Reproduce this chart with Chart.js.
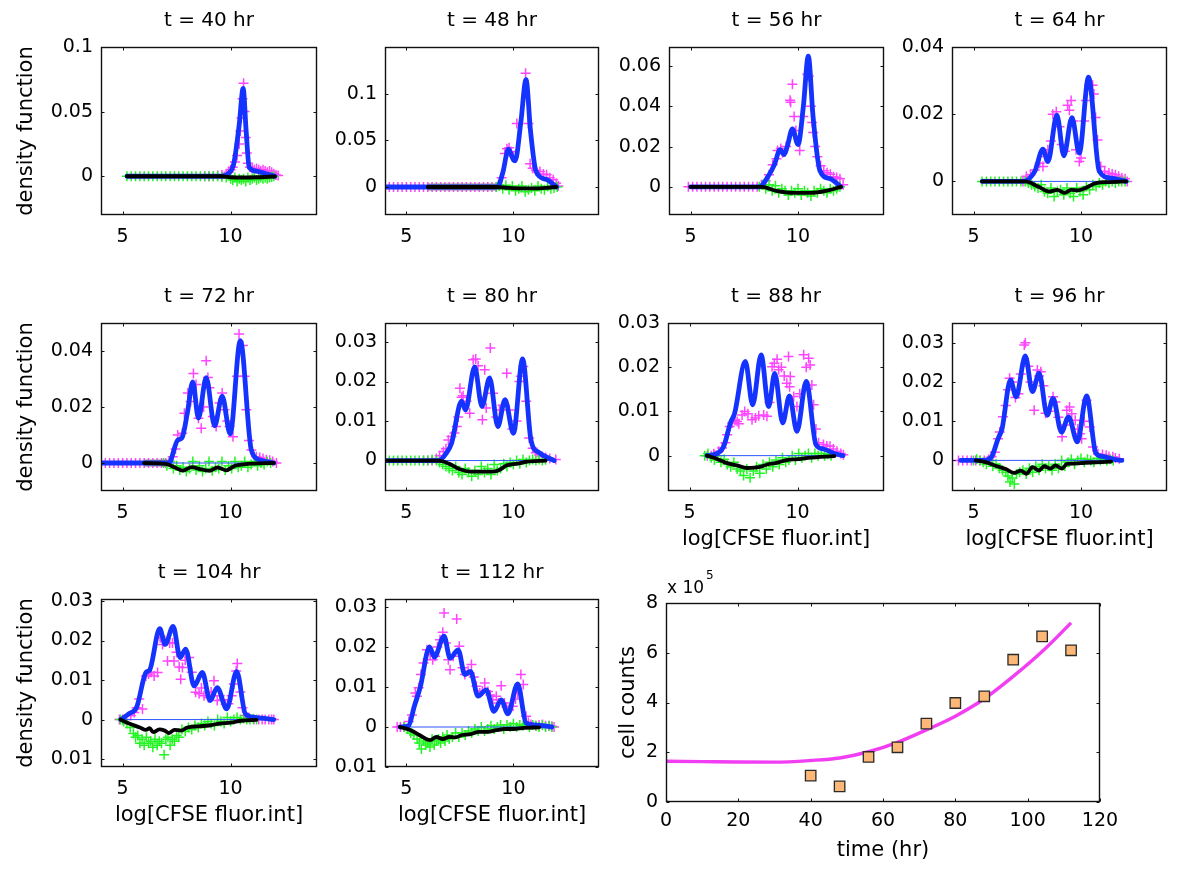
<!DOCTYPE html>
<html><head><meta charset="utf-8">
<script src="https://cdn.jsdelivr.net/npm/chart.js@4.4.0/dist/chart.umd.min.js"></script>
<style>
html,body{margin:0;padding:0;background:#fff}
body{width:1200px;height:884px;position:relative;overflow:hidden}
canvas{position:absolute}
</style></head><body>
<script>
// ---------------- DATA ----------------
const xTicks = [5, 10];
const xTickLabels = ['5', '10'];

// t = 40 hr
const mag40x = [8.8,9.0,9.2,9.4,9.6,9.8,9.9,10.0,10.1,10.2,10.3,10.4,10.45,10.5,10.55,10.6,10.65,10.7,10.75,10.8,10.9,11.0,11.1,11.2,11.3,11.4,11.5,11.6,11.7,11.8,11.9,12.0,12.1,12.2];
const mag40y = [0,0,0,0.0005,0.001,0.002,0.003,0.005,0.007,0.011,0.016,0.025,0.035,0.045,0.06,0.072,0.05,0.03,0.018,0.01,0.007,0.006,0.005,0.006,0.005,0.004,0.005,0.004,0.003,0.004,0.003,0.002,0.001,0.0005];
const grn40x = [5.2,5.4,5.6,5.8,6.0,6.2,6.4,6.6,6.8,7.0,7.2,7.4,7.6,7.8,8.0,8.2,8.4,8.6,8.8,9.0,9.2,9.4,9.6,9.8,10.0,10.1,10.2,10.3,10.4,10.5,10.6,10.7,10.8,10.9,11.0,11.1,11.2,11.3,11.4,11.5,11.6,11.7,11.8,11.9,12.0];
const grn40y = [0,0,0,0,0,0,0,0,0,0,0,0,0,0,0,0,0,0,0,0,0,0,-0.0005,-0.001,-0.002,-0.003,-0.001,-0.004,-0.002,-0.003,-0.002,-0.004,-0.001,-0.003,-0.002,-0.001,-0.003,-0.002,-0.001,-0.002,-0.001,-0.002,-0.001,-0.0005,0];
const fit40x = [5.2,9.6,9.9,10.15,10.4,10.58,10.72,10.86,11.2,11.6,12.05];
const fit40y = [0,0,0.002,0.01,0.04,0.068,0.035,0.007,0.004,0.002,0];
const neg40x = [5.2,9.6,10.0,10.6,11.2,12.05];
const neg40y = [0,0,-0.0008,-0.001,-0.0008,-0.0002];
const yTicks40 = [0,0.05,0.1], yLab40 = ['0','0.05','0.1'];

// t = 48 hr
const mag48x = [4.0,4.2,4.4,4.6,4.8,5.0,5.2,5.4,5.6,5.8,6.0,6.2,6.4,6.6,6.8,7.0,7.2,7.4,7.6,7.8,8.0,8.2,8.4,8.6,8.8,9.0,9.2,9.3,9.45,9.6,9.7,9.8,9.9,10.0,10.16,10.57,10.7,10.78,10.9,11.05,11.24,11.4,11.55,11.7,11.86,12.0,12.1];
const mag48y = [0,0,0,0,0,0,0,0,0,0,0,0,0,0,0,0,0,0,0,0,0,0,0,0,0,0,0,0.002,0.01,0.036,0.041,0.042,0.038,0.033,0.068,0.122,0.068,0.025,0.02,0.018,0.0165,0.014,0.013,0.01,0.0077,0.004,0.001];
const grn48x = [9.2,9.35,9.5,9.65,9.8,9.95,10.1,10.25,10.4,10.55,10.7,10.85,11.0,11.15,11.3,11.45,11.6,11.75,11.9,12.05];
const grn48y = [0,0.001,-0.002,0.002,-0.003,0.001,-0.004,-0.002,0.001,-0.005,-0.003,-0.001,-0.004,0.001,-0.002,-0.003,0.0005,-0.002,-0.001,0];
const fit48x = [4.0,9.25,9.5,9.77,10.0,10.08,10.35,10.59,10.8,11.06,11.55,12.02];
const fit48y = [0,0,0.015,0.0405,0.029,0.028,0.07,0.115,0.06,0.0165,0.008,0];
const neg48x = [6.0,9.2,9.8,10.4,11.0,11.6,12.0];
const neg48y = [0,0,-0.001,-0.0015,-0.0015,-0.0008,0];
const grey48 = [6.0,9.2];
const yTicks48 = [0,0.05,0.1], yLab48 = ['0','0.05','0.1'];

// t = 56 hr
const mag56x = [4.9,5.1,5.3,5.5,5.7,5.9,6.1,6.3,6.5,6.7,6.9,7.1,7.3,7.5,7.7,7.9,8.1,8.3,8.5,8.65,8.82,9.0,9.05,9.2,9.28,9.45,9.63,9.66,9.74,9.82,9.9,10.08,10.25,10.43,10.5,10.6,10.66,10.71,10.8,10.9,11.05,11.2,11.35,11.5,11.65,11.8,11.95,12.1];
const mag56y = [0,0,0,0,0,0,0,0,0,0,0,0,0,0,0,0,0,0.001,0.003,0.006,0.011,0.014,0.018,0.019,0.017,0.02,0.043,0.042,0.051,0.035,0.028,0.018,0.035,0.056,0.055,0.04,0.032,0.027,0.02,0.015,0.0105,0.008,0.007,0.0063,0.005,0.0047,0.004,0.001];
const grn56x = [8.2,8.35,8.5,8.65,8.8,8.95,9.1,9.25,9.4,9.55,9.7,9.85,10.0,10.15,10.3,10.45,10.6,10.75,10.9,11.05,11.2,11.35,11.5,11.65,11.8,11.95];
const grn56y = [0,0.001,-0.001,0.001,-0.002,0.0005,-0.003,-0.001,-0.002,-0.004,-0.002,-0.003,-0.001,-0.004,-0.002,-0.003,-0.0045,-0.002,-0.003,-0.001,-0.002,-0.003,-0.001,-0.002,-0.001,0];
const fit56x = [5.0,8.2,8.6,8.9,9.17,9.35,9.5,9.74,10.0,10.25,10.48,10.7,11.02,11.5,12.0];
const fit56y = [0,0,0.005,0.011,0.0185,0.016,0.02,0.0288,0.021,0.04,0.065,0.035,0.008,0.004,0];
const neg56x = [5.0,8.3,9.0,9.8,10.6,11.3,12.0];
const neg56y = [0,0,-0.002,-0.003,-0.003,-0.002,0];
const yTicks56 = [0,0.02,0.04,0.06], yLab56 = ['0','0.02','0.04','0.06'];

// t = 64 hr
const mag64x = [7.3,7.46,7.65,7.85,8.08,8.23,8.34,8.46,8.6,8.69,8.85,9.0,9.1,9.25,9.38,9.46,9.54,9.65,9.77,9.92,10.0,10.15,10.23,10.38,10.54,10.6,10.68,10.77,10.92,11.1,11.3,11.45,11.6,11.75,11.9,12.05,12.15];
const mag64y = [0,0.0015,0.002,0.0034,0.0054,0.0044,0.0074,0.0094,0.012,0.02,0.0207,0.0163,0.011,0.009,0.0227,0.0212,0.0241,0.018,0.0094,0.0059,0.007,0.018,0.0241,0.0286,0.0286,0.026,0.019,0.0123,0.0044,0.003,0.0025,0.0022,0.002,0.0015,0.001,0.0008,0];
const grn64x = [5.4,5.6,5.8,6.0,6.2,6.4,6.6,6.8,7.0,7.2,7.4,7.55,7.7,7.85,8.0,8.15,8.3,8.45,8.6,8.75,8.9,9.05,9.2,9.35,9.5,9.65,9.8,9.95,10.1,10.25,10.4,10.55,10.7,10.85,11.0,11.15,11.3,11.45,11.6,11.75,11.9,12.05];
const grn64y = [0,0,0,0,0,0,0,0,0,0,0,-0.0005,-0.001,-0.0015,-0.002,-0.001,-0.003,-0.0035,-0.002,-0.0045,-0.003,-0.0025,-0.004,-0.002,-0.0035,-0.0045,-0.002,-0.003,-0.004,-0.0015,-0.0025,-0.001,-0.0015,-0.0005,-0.001,0,-0.0005,0,-0.0005,0,0,0];
const fit64x = [5.4,7.3,7.85,8.23,8.46,8.88,9.2,9.58,9.92,10.35,10.85,11.4,12.1];
const fit64y = [0,0,0.003,0.0096,0.0059,0.0197,0.0076,0.019,0.0084,0.031,0.003,0.001,0];
const neg64x = [5.4,7.4,8.0,8.54,8.9,9.23,9.55,9.85,10.2,10.7,11.3,12.1];
const neg64y = [0,0,-0.0015,-0.003,-0.0025,-0.0034,-0.0025,-0.0027,-0.002,-0.0005,-0.0002,0];
const base64 = [7.3,12.1];
const yTicks64 = [0,0.02,0.04], yLab64 = ['0','0.02','0.04'];

// t = 72 hr
const mag72x = [4.0,4.2,4.4,4.6,4.8,5.0,5.2,5.4,5.6,5.8,6.0,6.2,6.4,6.6,6.8,7.0,7.15,7.32,7.45,7.55,7.76,7.86,8.02,8.15,8.28,8.4,8.51,8.64,8.75,8.87,8.95,9.02,9.18,9.33,9.49,9.61,9.72,9.85,9.95,10.11,10.3,10.39,10.57,10.65,10.73,10.85,10.96,11.19,11.35,11.5,11.65,11.81,11.95,12.12];
const mag72y = [0,0,0,0,0,0,0,0,0,0,0,0,0,0,0,0,0.0005,0.0022,0.005,0.01,0.0106,0.0178,0.025,0.022,0.032,0.028,0.016,0.0124,0.02,0.0365,0.0305,0.0269,0.0166,0.013,0.0214,0.025,0.019,0.015,0.013,0.0094,0.031,0.0461,0.042,0.031,0.019,0.008,0.0046,0.0022,0.002,0.0016,0.0012,0.001,0.0005,0];
const grn72x = [6.9,7.05,7.2,7.35,7.5,7.65,7.8,7.95,8.1,8.25,8.4,8.55,8.7,8.85,9.0,9.15,9.3,9.45,9.6,9.75,9.9,10.05,10.2,10.35,10.5,10.65,10.8,10.95,11.1,11.25,11.4,11.55,11.7,11.85];
const grn72y = [0,-0.001,0.0005,-0.002,-0.001,-0.0025,-0.0015,-0.003,-0.002,0.0005,-0.0025,-0.001,-0.003,-0.002,0.0005,-0.0028,-0.0015,-0.002,0.0005,-0.0025,-0.001,-0.002,0.0005,-0.0015,-0.001,0.0005,-0.0015,-0.0005,0.0005,-0.001,0,-0.0005,0.0005,0];
const fit72x = [4.0,7.14,7.55,7.75,8.0,8.25,8.51,8.87,9.26,9.61,9.98,10.45,10.96,11.4,12.0];
const fit72y = [0,0,0.0082,0.009,0.018,0.029,0.016,0.0305,0.0133,0.0239,0.0104,0.0437,0.0046,0.001,0];
const neg72x = [6.0,7.0,7.4,7.79,8.2,8.6,9.02,9.4,9.8,10.2,10.6,11.0,12.0];
const neg72y = [0,-0.0003,-0.0015,-0.0027,-0.0015,-0.0022,-0.0028,-0.0016,-0.0026,-0.001,-0.0005,-0.0002,0];
const grey72 = [6.0,7.1], base72 = [7.1,12.0];
const yTicks72 = [0,0.02,0.04], yLab72 = ['0','0.02','0.04'];

// t = 80 hr
const mag80x = [5.8,6.0,6.2,6.4,6.55,6.73,6.85,6.96,7.11,7.25,7.35,7.42,7.5,7.58,7.65,7.81,7.96,8.12,8.24,8.35,8.55,8.66,8.73,8.92,9.05,9.2,9.35,9.5,9.69,9.81,9.95,10.15,10.28,10.35,10.46,10.6,10.74,10.9,11.05,11.2,11.35,11.51,11.7,11.98];
const mag80y = [0,0,0,0.0005,0.0012,0.0023,0.003,0.0052,0.0061,0.007,0.0086,0.011,0.0183,0.016,0.0164,0.015,0.012,0.0255,0.0257,0.024,0.0103,0.023,0.0133,0.0285,0.017,0.011,0.0128,0.014,0.0221,0.0128,0.008,0.01,0.02,0.0213,0.0238,0.015,0.0057,0.0031,0.002,0.0014,0.001,0.0008,0.0005,0.0003];
const grn80x = [4.0,4.2,4.4,4.6,4.8,5.0,5.2,5.4,5.6,5.8,6.0,6.2,6.4,6.55,6.7,6.85,7.0,7.15,7.3,7.45,7.6,7.75,7.9,8.05,8.2,8.35,8.5,8.65,8.8,8.95,9.1,9.25,9.4,9.55,9.7,9.85,10.0,10.15,10.3,10.45,10.6,10.75,10.9,11.05,11.2,11.35,11.5];
const grn80y = [0,0,0,0,0,0,0,0,0,0,0,0.0003,0,-0.0005,-0.001,-0.0015,-0.002,-0.0025,-0.0015,-0.003,-0.0035,-0.002,-0.003,-0.004,-0.0025,-0.0035,-0.0015,-0.003,-0.002,-0.0035,-0.001,-0.0025,-0.002,-0.0008,-0.0015,-0.0005,-0.001,0,-0.0008,0.0003,-0.0005,0,0.0003,0,0.0003,0,0.0002];
const fit80x = [4.0,6.5,6.88,7.11,7.58,7.76,8.19,8.53,8.89,9.27,9.61,10.0,10.43,10.82,11.2,11.9];
const fit80y = [0,0,0.002,0.0044,0.015,0.0128,0.0237,0.0137,0.0209,0.0086,0.0154,0.0069,0.0257,0.0052,0.002,0];
const neg80x = [4.0,6.5,7.0,7.5,8.0,8.5,9.0,9.3,9.7,10.2,10.6,11.5];
const neg80y = [0,0,-0.0008,-0.0022,-0.0028,-0.0028,-0.0028,-0.0025,-0.0012,-0.0008,-0.0003,0];
const base80 = [6.5,11.9];
const yTicks80 = [0,0.01,0.02,0.03], yLab80 = ['0','0.01','0.02','0.03'];

// t = 88 hr
const mag88x = [5.82,6.0,6.12,6.35,6.5,6.66,6.74,6.86,6.97,7.1,7.2,7.28,7.43,7.55,7.7,7.89,8.05,8.2,8.43,8.58,8.7,8.82,8.92,9.05,9.12,9.25,9.38,9.5,9.58,9.63,9.66,9.82,9.97,10.1,10.28,10.4,10.51,10.58,10.66,10.74,10.85,10.97,11.2,11.35,11.5,11.65,11.82,12.0,12.12];
const mag88y = [0,0,0.0004,0.001,0.0017,0.0029,0.0047,0.0066,0.0074,0.008,0.0077,0.0072,0.0092,0.01,0.0095,0.0081,0.0085,0.009,0.0092,0.0089,0.012,0.0201,0.0209,0.0218,0.0194,0.02,0.018,0.0164,0.0224,0.0156,0.0179,0.0134,0.0111,0.014,0.0228,0.02,0.022,0.0205,0.016,0.0115,0.006,0.0029,0.0025,0.0022,0.0021,0.0015,0.001,0.0005,0.0002];
const grn88x = [5.7,5.85,6.0,6.15,6.3,6.45,6.6,6.75,6.9,7.05,7.2,7.35,7.5,7.65,7.8,7.95,8.1,8.25,8.4,8.55,8.7,8.85,9.0,9.15,9.3,9.45,9.6,9.75,9.9,10.05,10.2,10.35,10.5,10.65,10.8,10.95,11.1,11.25,11.4,11.55];
const grn88y = [0,0.0005,-0.0005,-0.001,0,-0.0015,-0.0008,-0.002,-0.0025,-0.0015,-0.003,-0.0035,-0.0045,-0.003,-0.005,-0.0035,-0.0025,-0.004,-0.002,-0.003,-0.0015,-0.0025,-0.001,-0.002,-0.0005,-0.0015,-0.001,0,-0.001,0.0005,-0.0005,0,0.0005,-0.0005,0.0005,0,0.0005,0,0.0003,0];
const fit88x = [5.8,6.2,6.58,6.89,7.08,7.58,7.92,8.31,8.66,8.94,9.31,9.62,9.97,10.4,10.85,11.2,11.7,12.1];
const fit88y = [0,0.0003,0.0021,0.0074,0.0095,0.0213,0.0115,0.0228,0.0111,0.0186,0.0074,0.0135,0.0055,0.0168,0.0025,0.0015,0.0005,0];
const neg88x = [5.8,6.3,6.74,7.2,7.66,8.0,8.3,8.6,8.97,9.5,10.0,10.5,11.7];
const neg88y = [0,-0.0008,-0.0017,-0.0022,-0.0028,-0.0027,-0.0025,-0.002,-0.0017,-0.001,-0.0008,-0.0005,-0.0001];
const base88 = [5.8,12.1];
const yTicks88 = [0,0.01,0.02,0.03], yLab88 = ['0','0.01','0.02','0.03'];

// t = 96 hr
const mag96x = [4.3,4.5,4.7,4.9,5.1,5.3,5.5,5.7,5.84,5.99,6.14,6.22,6.37,6.5,6.6,6.68,6.8,6.95,7.09,7.2,7.36,7.41,7.55,7.65,7.82,7.97,8.05,8.13,8.25,8.35,8.5,8.7,8.81,8.95,9.12,9.25,9.34,9.47,9.57,9.73,9.85,9.95,10.03,10.15,10.26,10.41,10.56,10.79,11.0,11.17,11.3,11.48,11.6,11.78];
const mag96y = [0,0,0,0,0,0,0,0.0003,0.0009,0.0021,0.0055,0.0072,0.0111,0.014,0.018,0.0209,0.02,0.016,0.017,0.022,0.0294,0.03,0.024,0.02,0.0128,0.023,0.0215,0.0226,0.019,0.012,0.0125,0.0162,0.0149,0.011,0.006,0.009,0.0128,0.0136,0.0119,0.0102,0.008,0.0068,0.0055,0.01,0.0153,0.0085,0.0034,0.0017,0.0015,0.0013,0.001,0.0009,0.0006,0.0004];
const grn96x = [5.0,5.15,5.3,5.45,5.6,5.75,5.9,6.05,6.2,6.35,6.5,6.6,6.7,6.8,6.9,7.0,7.15,7.3,7.45,7.6,7.75,7.9,8.05,8.2,8.35,8.5,8.65,8.8,8.95,9.1,9.25,9.4,9.55,9.7,9.85,10.0,10.15,10.3,10.45,10.6,10.75,10.9,11.05,11.2,11.35,11.5];
const grn96y = [0,0.0003,0,-0.0005,-0.001,0,-0.0015,-0.001,-0.002,-0.0025,-0.003,-0.004,-0.0055,-0.0045,-0.006,-0.0035,-0.003,-0.0025,-0.0035,-0.002,-0.003,-0.0015,-0.0025,-0.001,-0.002,-0.0015,-0.0025,-0.001,-0.002,0,-0.0015,-0.0005,0.0003,-0.001,0,0.0005,-0.0005,0.0003,0,-0.0005,0.0005,0,0.0003,0,0.0003,0];
const fit96x = [4.4,5.5,5.84,6.14,6.33,6.72,6.98,7.41,7.74,8.05,8.43,8.7,9.09,9.42,9.83,10.26,10.69,11.0,11.5,11.9];
const fit96y = [0,0,0.0009,0.0055,0.0081,0.0205,0.0162,0.0266,0.0175,0.0222,0.0115,0.0158,0.0072,0.0111,0.0047,0.0164,0.0019,0.001,0.0003,0];
const neg96x = [5.1,5.6,6.1,6.5,6.9,7.2,7.47,7.74,8.05,8.28,8.58,8.81,9.12,9.34,9.7,10.2,10.7,11.4];
const neg96y = [0,-0.0005,-0.0015,-0.0022,-0.0032,-0.0026,-0.0034,-0.0017,-0.0026,-0.0015,-0.0021,-0.0013,-0.0021,-0.0009,-0.0008,-0.0006,-0.0005,-0.0003];
const base96 = [5.5,11.9];
const yTicks96 = [0,0.01,0.02,0.03], yLab96 = ['0','0.01','0.02','0.03'];

// t = 104 hr
const mag104x = [4.85,5.0,5.15,5.38,5.54,5.65,5.77,5.92,6.08,6.2,6.32,6.46,6.62,6.74,6.85,6.95,7.08,7.18,7.31,7.38,7.5,7.62,7.69,7.77,7.9,8.08,8.2,8.38,8.54,8.65,8.77,8.97,9.1,9.23,9.38,9.5,9.65,9.77,9.9,10.05,10.15,10.26,10.31,10.45,10.55,10.69,10.85,11.08,11.3,11.46,11.6,11.77,11.9,12.0];
const mag104y = [0,0,0,0.001,0.0018,0.003,0.0052,0.0027,0.011,0.0115,0.012,0.011,0.0119,0.0207,0.019,0.02,0.0148,0.0194,0.0194,0.0148,0.017,0.0133,0.0102,0.0132,0.015,0.0157,0.012,0.0069,0.0065,0.008,0.006,0.0056,0.007,0.0098,0.0048,0.006,0.005,0.0039,0.004,0.006,0.009,0.0123,0.0142,0.007,0.003,0.001,0.0005,0,0,0,0,0,0,0];
const grn104x = [4.9,5.05,5.2,5.35,5.5,5.6,5.7,5.8,5.9,6.0,6.1,6.2,6.3,6.4,6.5,6.6,6.7,6.8,6.92,7.0,7.1,7.2,7.3,7.4,7.5,7.6,7.75,7.9,8.05,8.2,8.35,8.5,8.65,8.8,8.95,9.1,9.25,9.4,9.55,9.7,9.85,10.0,10.15,10.3,10.45,10.6,10.75,10.9,11.05,11.2];
const grn104y = [0,-0.0005,-0.001,-0.002,-0.0035,-0.0045,-0.004,-0.006,-0.005,-0.0065,-0.0045,-0.006,-0.0055,-0.007,-0.005,-0.0065,-0.0055,-0.006,-0.0089,-0.005,-0.0045,-0.0065,-0.005,-0.0055,-0.004,-0.0045,-0.0025,-0.003,-0.002,-0.0025,-0.0015,-0.002,-0.001,-0.0015,-0.0005,-0.001,-0.0015,0,-0.0005,-0.001,0.0005,-0.0005,0,0.0005,0,0.0003,0,0,0.0002,0];
const fit104x = [4.92,5.3,5.65,6.08,6.25,6.72,6.97,7.34,7.66,7.92,8.31,8.69,9.05,9.38,9.82,10.28,10.69,11.2,12.0];
const fit104y = [0,0.0015,0.0031,0.0119,0.0125,0.023,0.019,0.0236,0.0157,0.0178,0.0085,0.0119,0.0048,0.0081,0.0027,0.0122,0.0014,0.0005,0];
const neg104x = [4.9,5.3,5.8,6.08,6.25,6.42,6.7,6.95,7.15,7.4,7.7,8.0,8.5,9.0,9.5,10.0,10.5,11.2];
const neg104y = [0,-0.001,-0.002,-0.0026,-0.0022,-0.0032,-0.0025,-0.0028,-0.0034,-0.0026,-0.0028,-0.002,-0.0017,-0.0015,-0.001,-0.0008,-0.0003,-0.0001];
const base104 = [4.9,11.2];
const yTicks104 = [-0.01,0,0.01,0.02,0.03], yLab104 = ['0.01','0','0.01','0.02','0.03'];

// t = 112 hr
const mag112x = [4.57,4.72,4.88,5.11,5.26,5.42,5.49,5.57,5.68,5.8,5.96,6.11,6.23,6.34,6.45,6.57,6.7,6.76,6.85,6.96,7.04,7.19,7.35,7.47,7.62,7.73,7.88,8.04,8.15,8.27,8.43,8.55,8.66,8.81,8.92,9.04,9.2,9.3,9.43,9.58,9.68,9.78,9.97,10.1,10.2,10.35,10.46,10.59,10.7,10.82,11.05,11.2,11.36,11.5,11.67,11.8,11.9];
const mag112y = [0,0,0,0.0014,0.003,0.0085,0.0077,0.0098,0.0131,0.016,0.0193,0.0181,0.0168,0.0177,0.02,0.0218,0.0237,0.0285,0.021,0.0168,0.0143,0.0177,0.027,0.0202,0.0148,0.0131,0.014,0.0156,0.0125,0.0102,0.0085,0.009,0.011,0.0089,0.008,0.0068,0.0077,0.006,0.0103,0.006,0.005,0.0043,0.0052,0.007,0.0085,0.0131,0.0106,0.0027,0.0012,0.0006,0.0003,0.0005,0.0006,0.0003,0.0003,0.0002,0];
const grn112x = [4.9,5.05,5.2,5.35,5.5,5.6,5.7,5.8,5.9,6.0,6.1,6.2,6.3,6.4,6.5,6.6,6.7,6.8,6.9,7.0,7.15,7.3,7.45,7.6,7.75,7.9,8.05,8.2,8.35,8.5,8.65,8.8,8.95,9.1,9.25,9.4,9.55,9.7,9.85,10.0,10.15,10.3,10.45,10.6,10.75,10.9,11.05,11.2,11.35,11.5,11.65,11.8];
const grn112y = [0,-0.0005,-0.0015,-0.002,-0.003,-0.004,-0.0055,-0.0035,-0.0045,-0.004,-0.005,-0.003,-0.0045,-0.0035,-0.003,-0.004,-0.0025,-0.0035,-0.002,-0.003,-0.0025,-0.0015,-0.0025,-0.0015,-0.002,-0.001,-0.0015,-0.0005,-0.001,0,-0.001,-0.0005,0.0003,-0.0005,0,0.0005,-0.0005,0.0005,0,0.0008,0,0.0005,0.0003,0.0008,0,0.0005,0.0003,0,0.0005,0,0.0003,0];
const fit112x = [4.7,5.1,5.37,5.65,6.08,6.31,6.76,7.04,7.42,7.73,7.99,8.35,8.73,9.09,9.43,9.74,10.2,10.59,11.0,11.8];
const fit112y = [0,0.0003,0.0052,0.01,0.02,0.0175,0.0227,0.0172,0.0193,0.0131,0.0139,0.0077,0.0093,0.0039,0.0068,0.0033,0.0108,0.001,0.0005,0];
const neg112x = [4.7,5.2,5.6,6.11,6.4,6.7,7.0,7.3,7.6,8.0,8.4,8.8,9.2,9.6,10.0,10.5,11.2];
const neg112y = [0,-0.0008,-0.002,-0.0033,-0.0025,-0.003,-0.0025,-0.0026,-0.002,-0.0018,-0.0012,-0.0012,-0.0008,-0.0005,-0.0005,-0.0002,-0.0001];
const base112 = [4.7,11.8];
const yTicks112 = [-0.01,0,0.01,0.02,0.03], yLab112 = ['0.01','0','0.01','0.02','0.03'];

// cell counts
const countT = [40,48,56,64,72,80,88,96,104,112];
const countY = [106000,63000,181000,220000,315000,398000,425000,572000,666000,610000];
const modelT = [0,10,20,30,40,48,56,64,72,80,88,96,104,112];
const modelY = [164000,162500,161000,160500,167000,177000,202000,240000,290000,345000,415000,505000,605000,720000];
const timeTicks = [0,20,40,60,80,100,120];
const countTicks = [0,200000,400000,600000,800000];
const countTickLabels = ['0','2','4','6','8'];

// ---------------- RENDERING ----------------
const FONT = "'DejaVu Sans', sans-serif";
const pts = (xs, ys) => xs.map((x, i) => ({x: x, y: ys[i]}));
const seg = r => r ? [{x: r[0], y: 0}, {x: r[1], y: 0}] : [];

const boxPlugin = {
  id: 'matBox',
  afterDraw(chart) {
    const {ctx, chartArea: a, scales} = chart;
    const L = Math.round(a.left) + 0.5, R = Math.round(a.right) - 0.5;
    const T = Math.round(a.top) + 0.5, B = Math.round(a.bottom) - 0.5;
    ctx.save();
    ctx.strokeStyle = '#111'; ctx.lineWidth = 1.4;
    ctx.strokeRect(L, T, R - L, B - T);
    ctx.lineWidth = 1;
    ctx.beginPath();
    scales.x.ticks.forEach(t => {
      const p = Math.round(scales.x.getPixelForValue(t.value)) + 0.5;
      ctx.moveTo(p, B); ctx.lineTo(p, B - 3);
      ctx.moveTo(p, T); ctx.lineTo(p, T + 3);
    });
    scales.y.ticks.forEach(t => {
      const p = Math.round(scales.y.getPixelForValue(t.value)) + 0.5;
      ctx.moveTo(L, p); ctx.lineTo(L + 3, p);
      ctx.moveTo(R, p); ctx.lineTo(R - 3, p);
    });
    ctx.stroke();
    ctx.restore();
  }
};
const expPlugin = {
  id: 'expLabel',
  afterDraw(chart, args, opts) {
    if (!opts || !opts.text) return;
    const {ctx, chartArea: a} = chart;
    ctx.save();
    ctx.fillStyle = '#000';
    ctx.font = '17px ' + FONT;
    ctx.fillText(opts.text, a.left + 1, a.top - 10);
    ctx.font = '12px ' + FONT;
    ctx.fillText(opts.sup, a.left + 40, a.top - 24);
    ctx.restore();
  }
};

function makeCanvas(box, PL, PT, PR, PB) {
  const [L, T, R, B] = box;
  const c = document.createElement('canvas');
  c.width = R - L + PL + PR; c.height = B - T + PT + PB;
  c.style.left = (L - PL) + 'px'; c.style.top = (T - PT) + 'px';
  document.body.appendChild(c);
  return c;
}

function panel(p) {
  const PL = 100, PT = 48, PR = 14, PB = 70;
  const c = makeCanvas(p.box, PL, PT, PR, PB);
  const yTitleCenter = 27 - (p.box[0] - PL);
  const curve = (xs, ys, col, w, ord) => ({data: pts(xs, ys), borderColor: col, borderWidth: w, pointRadius: 0,
    cubicInterpolationMode: 'monotone', borderJoinStyle: 'round', borderCapStyle: 'round', order: ord});
  const marks = (xs, ys, col, ord) => ({data: pts(xs, ys), showLine: false, pointStyle: 'cross', pointRadius: 5,
    pointBorderColor: col, borderColor: col, pointBorderWidth: 1.5, order: ord});
  const datasets = [
    curve(p.negX, p.negY, '#000000', 3.8, 0),
    curve(p.fitX, p.fitY, '#1533ff', 4.8, 1),
    {data: seg(p.base), borderColor: '#2d55ff', borderWidth: 1, pointRadius: 0, order: 2},
    {data: seg(p.grey), borderColor: '#8a8a8a', borderWidth: 7, pointRadius: 0, order: 3},
    marks(p.grnX, p.grnY, '#22f522', 4),
    marks(p.magX, p.magY, '#ff44ff', 5)
  ];
  new Chart(c, {
    type: 'line',
    data: {datasets},
    plugins: [boxPlugin],
    options: {
      responsive: false, animation: false, events: [],
      layout: {padding: {left: 0, top: 0, right: PR, bottom: 0}},
      plugins: {
        legend: {display: false}, tooltip: {enabled: false},
        title: {display: true, text: p.title, fullSize: false, color: '#000',
          font: {family: FONT, size: 20, weight: 'normal'}, padding: {top: 10, bottom: 14}}
      },
      scales: {
        x: {type: 'linear', min: 4, max: 14,
          afterBuildTicks: s => { s.ticks = xTicks.map(v => ({value: v})); },
          afterFit: s => { s.height = PB; s.paddingLeft = 0; s.paddingRight = 0; },
          grid: {display: false, drawTicks: false}, border: {display: false},
          ticks: {color: '#000', font: {family: FONT, size: 19}, padding: 11, maxRotation: 0, autoSkip: false,
            callback: (v, i) => xTickLabels[i]},
          title: {display: !!p.xTitle, text: 'log[CFSE fluor.int]', color: '#000',
            font: {family: FONT, size: 21}, padding: {top: 0, bottom: PB - 49 - 12.6}}},
        y: {type: 'linear', min: p.ymin, max: p.ymax,
          afterBuildTicks: s => { s.ticks = p.yTicks.map(v => ({value: v})); },
          afterFit: s => { s.width = PL; },
          grid: {display: false, drawTicks: false}, border: {display: false},
          ticks: {color: '#000', font: {family: FONT, size: 19}, padding: 8, autoSkip: false,
            callback: (v, i) => p.yLabels[i]},
          title: {display: !!p.yTitle, text: 'density function', color: '#000',
            font: {family: FONT, size: 21}, padding: {top: yTitleCenter - 12.6, bottom: 0}}}
      }
    }
  });
}

const panels = [
  {title: 't = 40 hr', box: [101, 47, 317, 215], yTitle: true, ymin: -0.03, ymax: 0.1, yTicks: yTicks40, yLabels: yLab40,
   magX: mag40x, magY: mag40y, grnX: grn40x, grnY: grn40y, fitX: fit40x, fitY: fit40y, negX: neg40x, negY: neg40y},
  {title: 't = 48 hr', box: [385, 47, 599, 215], ymin: -0.03, ymax: 0.15, yTicks: yTicks48, yLabels: yLab48,
   magX: mag48x, magY: mag48y, grnX: grn48x, grnY: grn48y, fitX: fit48x, fitY: fit48y, negX: neg48x, negY: neg48y, grey: grey48},
  {title: 't = 56 hr', box: [669, 47, 884, 215], ymin: -0.014, ymax: 0.0695, yTicks: yTicks56, yLabels: yLab56,
   magX: mag56x, magY: mag56y, grnX: grn56x, grnY: grn56y, fitX: fit56x, fitY: fit56y, negX: neg56x, negY: neg56y},
  {title: 't = 64 hr', box: [952, 47, 1167, 215], ymin: -0.01, ymax: 0.04, yTicks: yTicks64, yLabels: yLab64,
   magX: mag64x, magY: mag64y, grnX: grn64x, grnY: grn64y, fitX: fit64x, fitY: fit64y, negX: neg64x, negY: neg64y, base: base64},
  {title: 't = 72 hr', box: [101, 323, 317, 491], yTitle: true, ymin: -0.01, ymax: 0.05, yTicks: yTicks72, yLabels: yLab72,
   magX: mag72x, magY: mag72y, grnX: grn72x, grnY: grn72y, fitX: fit72x, fitY: fit72y, negX: neg72x, negY: neg72y, grey: grey72, base: base72},
  {title: 't = 80 hr', box: [385, 323, 599, 491], ymin: -0.0077, ymax: 0.0348, yTicks: yTicks80, yLabels: yLab80,
   magX: mag80x, magY: mag80y, grnX: grn80x, grnY: grn80y, fitX: fit80x, fitY: fit80y, negX: neg80x, negY: neg80y, base: base80},
  {title: 't = 88 hr', box: [668, 323, 884, 491], xTitle: true, ymin: -0.008, ymax: 0.03, yTicks: yTicks88, yLabels: yLab88,
   magX: mag88x, magY: mag88y, grnX: grn88x, grnY: grn88y, fitX: fit88x, fitY: fit88y, negX: neg88x, negY: neg88y, base: base88},
  {title: 't = 96 hr', box: [952, 323, 1167, 491], xTitle: true, ymin: -0.0078, ymax: 0.035, yTicks: yTicks96, yLabels: yLab96,
   magX: mag96x, magY: mag96y, grnX: grn96x, grnY: grn96y, fitX: fit96x, fitY: fit96y, negX: neg96x, negY: neg96y, base: base96},
  {title: 't = 104 hr', box: [101, 599, 317, 767], xTitle: true, yTitle: true, ymin: -0.012, ymax: 0.0305, yTicks: yTicks104, yLabels: yLab104,
   magX: mag104x, magY: mag104y, grnX: grn104x, grnY: grn104y, fitX: fit104x, fitY: fit104y, negX: neg104x, negY: neg104y, base: base104},
  {title: 't = 112 hr', box: [385, 599, 599, 767], xTitle: true, ymin: -0.01, ymax: 0.032, yTicks: yTicks112, yLabels: yLab112,
   magX: mag112x, magY: mag112y, grnX: grn112x, grnY: grn112y, fitX: fit112x, fitY: fit112y, negX: neg112x, negY: neg112y, base: base112}
];
panels.forEach(panel);

// cell counts panel
(function () {
  const PL = 100, PT = 48, PR = 30, PB = 70;
  const box = [666, 603, 1100, 802];
  const c = makeCanvas(box, PL, PT, PR, PB);
  const yTitleCenter = 629 - (box[0] - PL);
  new Chart(c, {
    type: 'line',
    data: {datasets: [
      {data: [{x: 0, y: 0}], showLine: false, pointRadius: 2, pointBackgroundColor: '#1e3cff', pointBorderWidth: 0, order: 0},
      {data: pts(countT, countY), showLine: false, pointStyle: 'rect', pointRadius: 7.4,
        pointBackgroundColor: '#fdb878', pointBorderColor: '#2a2a2a', pointBorderWidth: 1.3, order: 1},
      {data: pts(modelT, modelY), borderColor: '#f23ef2', borderWidth: 3.4, pointRadius: 0,
        cubicInterpolationMode: 'monotone', order: 2}
    ]},
    plugins: [boxPlugin, expPlugin],
    options: {
      responsive: false, animation: false, events: [],
      layout: {padding: {left: 0, top: PT, right: PR, bottom: 0}},
      plugins: {legend: {display: false}, tooltip: {enabled: false}, expLabel: {text: 'x 10', sup: '5'}},
      scales: {
        x: {type: 'linear', min: 0, max: 120,
          afterBuildTicks: s => { s.ticks = timeTicks.map(v => ({value: v})); },
          afterFit: s => { s.height = PB; s.paddingLeft = 0; s.paddingRight = 0; },
          grid: {display: false, drawTicks: false}, border: {display: false},
          ticks: {color: '#000', font: {family: FONT, size: 19}, padding: 8, maxRotation: 0, autoSkip: false,
            callback: (v, i) => String(timeTicks[i])},
          title: {display: true, text: 'time (hr)', color: '#000', font: {family: FONT, size: 21},
            padding: {top: 0, bottom: PB - 49 - 12.6}}},
        y: {type: 'linear', min: 0, max: 800000,
          afterBuildTicks: s => { s.ticks = countTicks.map(v => ({value: v})); },
          afterFit: s => { s.width = PL; },
          grid: {display: false, drawTicks: false}, border: {display: false},
          ticks: {color: '#000', font: {family: FONT, size: 19}, padding: 8, autoSkip: false,
            callback: (v, i) => countTickLabels[i]},
          title: {display: true, text: 'cell counts', color: '#000', font: {family: FONT, size: 21},
            padding: {top: yTitleCenter - 12.6, bottom: 0}}}
      }
    }
  });
})();
</script>
</body></html>
